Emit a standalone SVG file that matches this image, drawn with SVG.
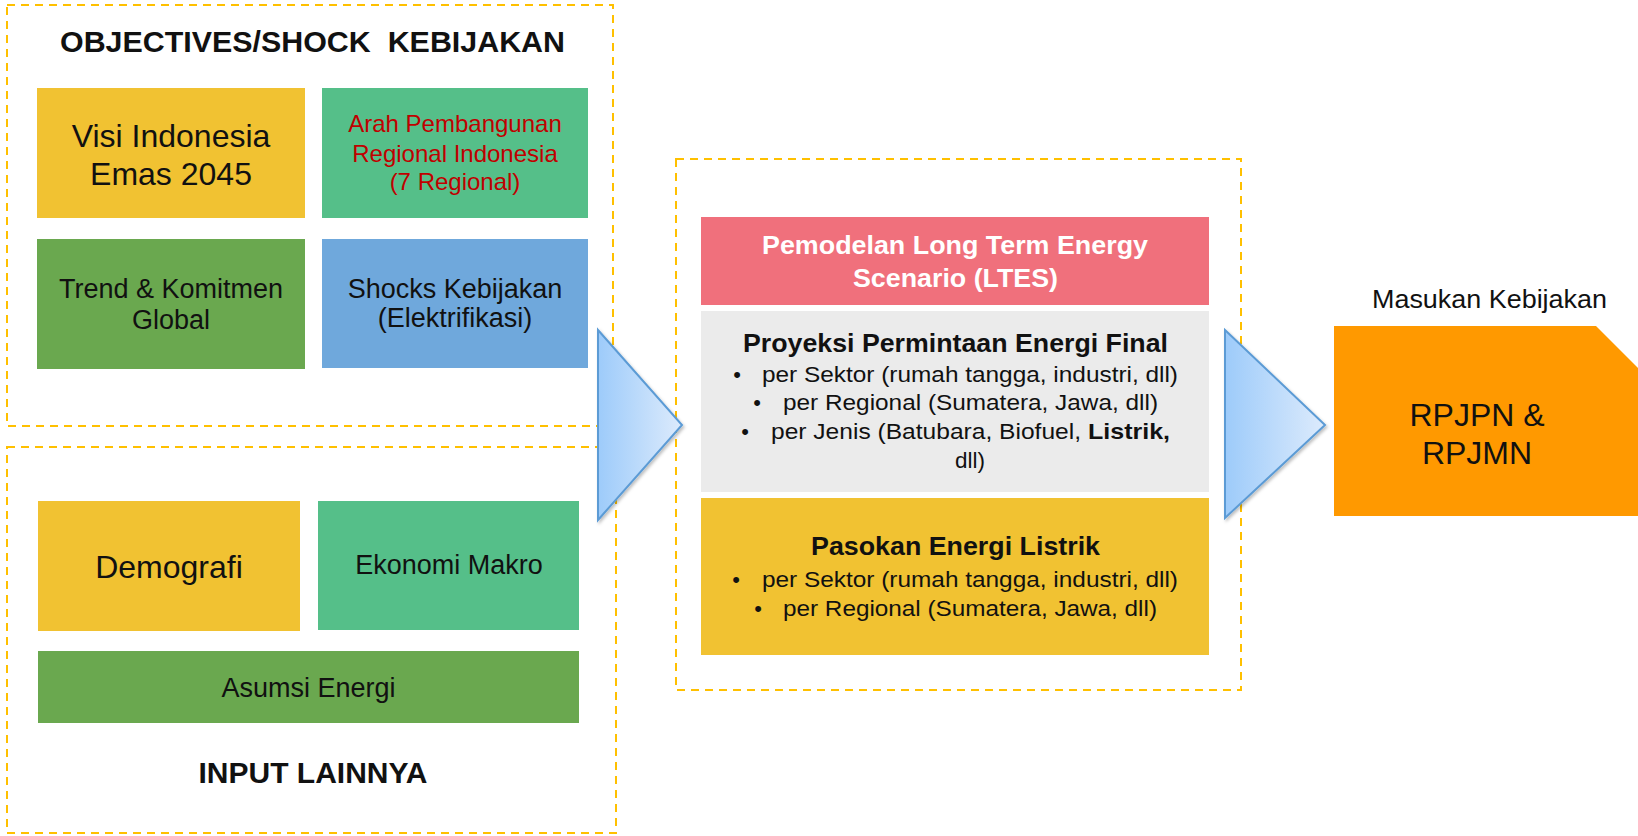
<svg xmlns="http://www.w3.org/2000/svg" width="1638" height="836" viewBox="0 0 1638 836">
<defs>
<style>
text{font-family:"Liberation Sans",Arial,sans-serif;fill:#111;}
.b{font-weight:bold;}
.dash{fill:none;stroke:#FFC000;stroke-width:2;stroke-dasharray:8 6;}
.yel{fill:#F1C232;}
.grn{fill:#55BF89;}
.dgr{fill:#6AA84F;}
.blu{fill:#6FA8DC;}
.ltes{fill:#F0707C;}
.gry{fill:#EBEBEB;}
.c{text-anchor:middle;}
.bul{font-size:22px;}
.arrow{fill:url(#ag);stroke:#5B9BD5;stroke-width:2;stroke-linejoin:miter;filter:url(#sh);}
</style>
<linearGradient id="ag" x1="0" y1="0" x2="1" y2="0">
<stop offset="0" stop-color="#9DCBFA"/>
<stop offset="1" stop-color="#DDEBFC"/>
</linearGradient>
<filter id="sh" x="-20%" y="-20%" width="140%" height="140%">
<feDropShadow dx="1.5" dy="2" stdDeviation="1.5" flood-color="#000" flood-opacity="0.25"/>
</filter>
</defs>
<rect width="1638" height="836" fill="#fff"/>

<g id="objectives-group">
<rect class="dash" x="7" y="5" width="606" height="421"/>
<text class="b c" x="312.5" y="52" font-size="29" textLength="505" lengthAdjust="spacingAndGlyphs">OBJECTIVES/SHOCK&#160; KEBIJAKAN</text>
</g>
<g id="visi">
<rect class="yel" x="37" y="88" width="268" height="130"/>
<text class="c" x="171" y="147" font-size="32">Visi Indonesia</text>
<text class="c" x="171" y="185" font-size="32">Emas 2045</text>
</g>
<g id="arah">
<rect class="grn" x="322" y="88" width="266" height="130"/>
<text class="c" x="455" y="132" font-size="24" style="fill:#C00000">Arah Pembangunan</text>
<text class="c" x="455" y="162" font-size="24" style="fill:#C00000">Regional Indonesia</text>
<text class="c" x="455" y="190" font-size="24" style="fill:#C00000">(7 Regional)</text>
</g>
<g id="trend">
<rect class="dgr" x="37" y="239" width="268" height="130"/>
<text class="c" x="171" y="298" font-size="27">Trend &amp; Komitmen</text>
<text class="c" x="171" y="329" font-size="27">Global</text>
</g>
<g id="shocks">
<rect class="blu" x="322" y="239" width="266" height="129"/>
<text class="c" x="455" y="298" font-size="27">Shocks Kebijakan</text>
<text class="c" x="455" y="327" font-size="27">(Elektrifikasi)</text>
</g>

<g id="input-group">
<rect class="dash" x="7" y="447" width="609" height="386"/>
<text class="b c" x="313" y="783" font-size="30">INPUT LAINNYA</text>
</g>
<g id="demografi">
<rect class="yel" x="38" y="501" width="262" height="130"/>
<text class="c" x="169" y="578" font-size="32">Demografi</text>
</g>
<g id="ekonomi">
<rect class="grn" x="318" y="501" width="261" height="129"/>
<text class="c" x="449" y="574" font-size="27">Ekonomi Makro</text>
</g>
<g id="asumsi">
<rect class="dgr" x="38" y="651" width="541" height="72"/>
<text class="c" x="308.5" y="697" font-size="27">Asumsi Energi</text>
</g>

<g id="model-group">
<rect class="dash" x="676" y="159" width="565" height="531"/>
</g>
<g id="ltes">
<rect class="ltes" x="701" y="217" width="508" height="88"/>
<text class="b c" x="955" y="254" font-size="25" style="fill:#fff" textLength="386" lengthAdjust="spacingAndGlyphs">Pemodelan Long Term Energy</text>
<text class="b c" x="955.5" y="287" font-size="25" style="fill:#fff" textLength="205" lengthAdjust="spacingAndGlyphs">Scenario (LTES)</text>
</g>
<g id="proyeksi">
<rect class="gry" x="701" y="311" width="508" height="181"/>
<text class="b c" x="955.5" y="352" font-size="25" textLength="425" lengthAdjust="spacingAndGlyphs">Proyeksi Permintaan Energi Final</text>
<text class="bul c" x="737" y="382">•</text>
<text class="bul" x="762" y="382" textLength="416" lengthAdjust="spacingAndGlyphs">per Sektor (rumah tangga, industri, dll)</text>
<text class="bul c" x="757" y="410">•</text>
<text class="bul" x="783" y="410" textLength="375" lengthAdjust="spacingAndGlyphs">per Regional (Sumatera, Jawa, dll)</text>
<text class="bul c" x="745" y="439">•</text>
<text class="bul" x="771" y="439" textLength="310" lengthAdjust="spacingAndGlyphs">per Jenis (Batubara, Biofuel,</text>
<text class="bul b" x="1088" y="439" textLength="82" lengthAdjust="spacingAndGlyphs">Listrik,</text>
<text class="bul" x="955" y="468" textLength="30" lengthAdjust="spacingAndGlyphs">dll)</text>
</g>
<g id="pasokan">
<rect class="yel" x="701" y="498" width="508" height="157"/>
<text class="b c" x="955.5" y="555" font-size="25" textLength="289" lengthAdjust="spacingAndGlyphs">Pasokan Energi Listrik</text>
<text class="bul c" x="736" y="587">•</text>
<text class="bul" x="762" y="587" textLength="416" lengthAdjust="spacingAndGlyphs">per Sektor (rumah tangga, industri, dll)</text>
<text class="bul c" x="758" y="616">•</text>
<text class="bul" x="783" y="616" textLength="374" lengthAdjust="spacingAndGlyphs">per Regional (Sumatera, Jawa, dll)</text>
</g>

<g id="rpjpn">
<text x="1372" y="308" font-size="25" textLength="235" lengthAdjust="spacingAndGlyphs">Masukan Kebijakan</text>
<polygon points="1334,326 1596,326 1640,370 1640,516 1334,516" fill="#FF9900"/>
<text class="c" x="1477" y="426" font-size="32">RPJPN &amp;</text>
<text class="c" x="1477" y="464" font-size="32">RPJMN</text>
</g>

<g id="connectors">
<polygon class="arrow" points="598,330 682,425 598,520"/>
<polygon class="arrow" points="1225,330 1325,425 1225,518"/>
</g>
</svg>
